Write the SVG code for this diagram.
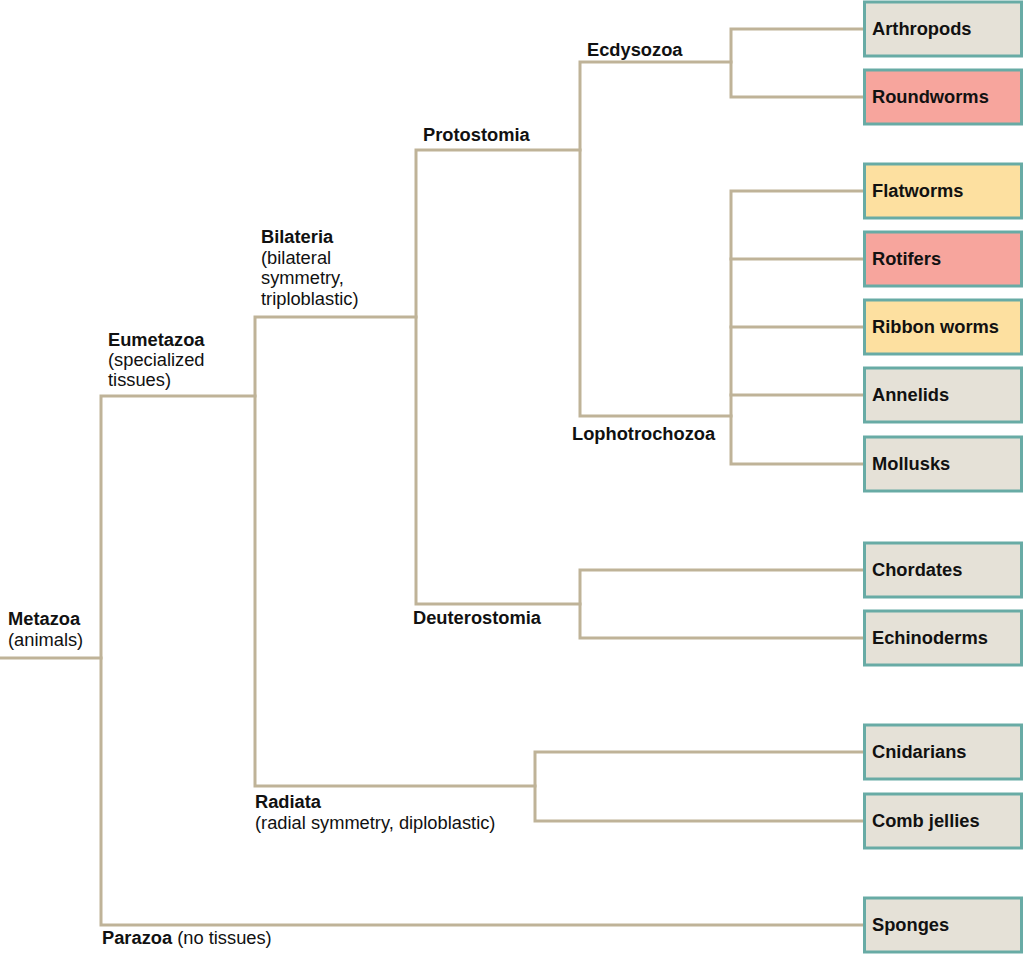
<svg xmlns="http://www.w3.org/2000/svg" width="1024" height="954" viewBox="0 0 1024 954">
<style>
.ln{fill:none;stroke:#bfb398;stroke-width:3;stroke-linejoin:miter;stroke-linecap:square}
.box{stroke:#68aba5;stroke-width:3}
.g{fill:#e5e1d7}
.r{fill:#f7a59d}
.y{fill:#fde0a0}
text{font-family:"Liberation Sans",Arial,sans-serif;font-size:18.3px;fill:#111111}
.b{font-weight:bold}
</style>
<rect width="1024" height="954" fill="#ffffff"/>
<g id="connectors">
<path class="ln" d="M0,658 H101"/>
<path class="ln" d="M255,396 H101 V925 H863"/>
<path class="ln" d="M416,317 H255 V786 H535"/>
<path class="ln" d="M863,752 H535 V821 H863"/>
<path class="ln" d="M580,150 H416 V604 H580"/>
<path class="ln" d="M731,62 H580 V416 H731"/>
<path class="ln" d="M863,29 H731 V97 H863"/>
<path class="ln" d="M863,191 H731 V464 H863"/>
<path class="ln" d="M731,259 H863 M731,327 H863 M731,395 H863"/>
<path class="ln" d="M863,570 H580 V638 H863"/>
</g>
<g id="labels">
<text x="587" y="56" class="b">Ecdysozoa</text>
<text x="423" y="141" class="b">Protostomia</text>
<text x="261" y="243" class="b">Bilateria</text>
<text x="261" y="264">(bilateral</text>
<text x="261" y="284">symmetry,</text>
<text x="261" y="305">triploblastic)</text>
<text x="108" y="346" class="b">Eumetazoa</text>
<text x="108" y="366">(specialized</text>
<text x="108" y="386">tissues)</text>
<text x="8" y="625" class="b">Metazoa</text>
<text x="8" y="646">(animals)</text>
<text x="572" y="440" class="b">Lophotrochozoa</text>
<text x="413" y="624" class="b">Deuterostomia</text>
<text x="255" y="808" class="b">Radiata</text>
<text x="255" y="829">(radial symmetry, diploblastic)</text>
<text x="102" y="944"><tspan class="b">Parazoa</tspan> (no tissues)</text>
</g>
<g id="node-arthropods"><rect class="box g" x="864.5" y="2" width="157" height="54"/><text x="872" y="35" class="b">Arthropods</text></g>
<g id="node-roundworms"><rect class="box r" x="864.5" y="70" width="157" height="54"/><text x="872" y="103" class="b">Roundworms</text></g>
<g id="node-flatworms"><rect class="box y" x="864.5" y="164" width="157" height="54"/><text x="872" y="197" class="b">Flatworms</text></g>
<g id="node-rotifers"><rect class="box r" x="864.5" y="232" width="157" height="54"/><text x="872" y="265" class="b">Rotifers</text></g>
<g id="node-ribbonworms"><rect class="box y" x="864.5" y="300" width="157" height="54"/><text x="872" y="333" class="b">Ribbon worms</text></g>
<g id="node-annelids"><rect class="box g" x="864.5" y="368" width="157" height="54"/><text x="872" y="401" class="b">Annelids</text></g>
<g id="node-mollusks"><rect class="box g" x="864.5" y="437" width="157" height="54"/><text x="872" y="470" class="b">Mollusks</text></g>
<g id="node-chordates"><rect class="box g" x="864.5" y="543" width="157" height="54"/><text x="872" y="576" class="b">Chordates</text></g>
<g id="node-echinoderms"><rect class="box g" x="864.5" y="611" width="157" height="54"/><text x="872" y="644" class="b">Echinoderms</text></g>
<g id="node-cnidarians"><rect class="box g" x="864.5" y="725" width="157" height="54"/><text x="872" y="758" class="b">Cnidarians</text></g>
<g id="node-combjellies"><rect class="box g" x="864.5" y="794" width="157" height="54"/><text x="872" y="827" class="b">Comb jellies</text></g>
<g id="node-sponges"><rect class="box g" x="864.5" y="898" width="157" height="54"/><text x="872" y="931" class="b">Sponges</text></g>
</svg>
